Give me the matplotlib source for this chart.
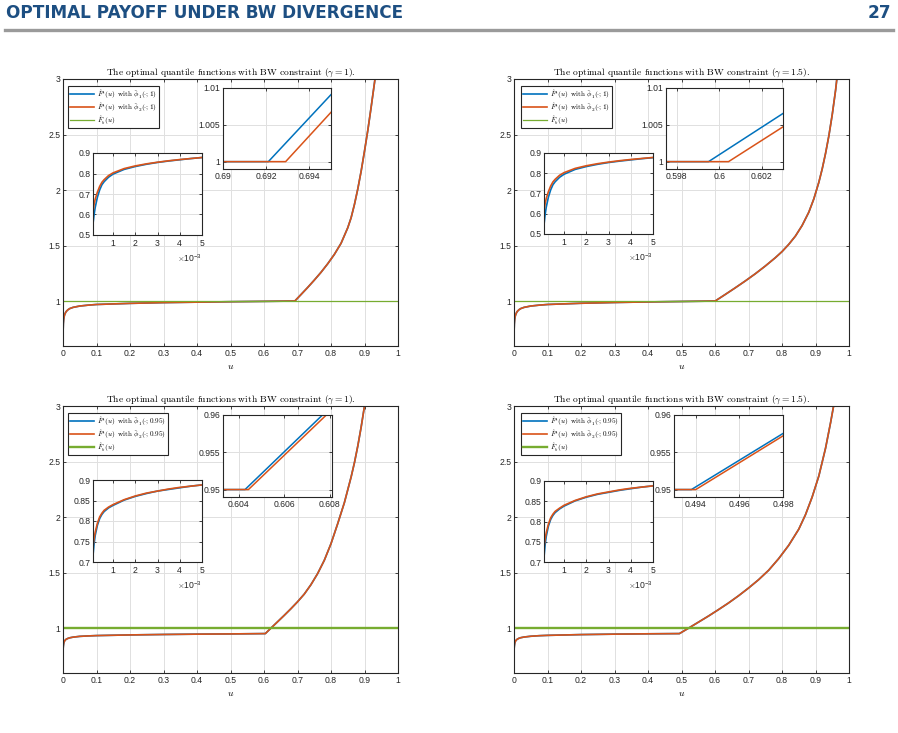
import numpy as np
import matplotlib
matplotlib.use('Agg')
import matplotlib.pyplot as plt
from matplotlib.lines import Line2D
from matplotlib.ticker import FuncFormatter

# ---- data ----
green_u = [0.0, 1.0]
green_vals = [1.0, 1.0]

low_u = [0, 0.0001, 0.0005, 0.001, 0.002, 0.003, 0.005, 0.0075, 0.01, 0.015, 0.02, 0.03, 0.05, 0.075,
         0.1, 0.2, 0.3, 0.4, 0.5]

# top-left (gamma = 1, phi(.;1))
tl_u = low_u + [0.6, 0.692, 0.71, 0.73, 0.75, 0.77, 0.79, 0.81, 0.83, 0.85, 0.86, 0.87, 0.88, 0.89,
                0.90, 0.91, 0.92, 0.93, 0.94]
tl_fstar = [0.50, 0.555, 0.745, 0.797, 0.834, 0.855, 0.878, 0.895, 0.907, 0.922, 0.932, 0.943, 0.955,
            0.963, 0.969, 0.979, 0.986, 0.99, 0.994,
            0.997, 1.0, 1.057, 1.121, 1.188, 1.258, 1.335, 1.42, 1.52, 1.66, 1.75, 1.87, 2.01, 2.17,
            2.35, 2.54, 2.75, 2.97, 3.2]
# top-right (gamma = 1.5, phi(.;1))
tr_u = low_u + [0.6005, 0.63, 0.66, 0.69, 0.72, 0.75, 0.78, 0.80, 0.82, 0.84, 0.86, 0.88, 0.895,
                0.91, 0.92, 0.93, 0.94, 0.95, 0.96, 0.97]
tr_fstar = [0.50, 0.545, 0.745, 0.795, 0.833, 0.855, 0.877, 0.895, 0.907, 0.922, 0.932, 0.943, 0.955,
            0.963, 0.969, 0.98, 0.987, 0.992, 0.996,
            1.0, 1.058, 1.118, 1.18, 1.245, 1.315, 1.39, 1.445, 1.51, 1.585, 1.68, 1.8, 1.92,
            2.07, 2.19, 2.33, 2.49, 2.68, 2.9, 3.17]
# bottom-left (gamma = 1, phi(.;0.95))
bl_u = low_u + [0.604, 0.62, 0.64, 0.66, 0.68, 0.70, 0.72, 0.74, 0.76, 0.78, 0.80, 0.82, 0.84, 0.86,
                0.87, 0.88, 0.89, 0.90, 0.91]
bl_fstar = [0.59, 0.716, 0.816, 0.838, 0.86, 0.872, 0.885, 0.894, 0.9, 0.907, 0.912, 0.918, 0.925,
            0.929, 0.932, 0.938, 0.942, 0.945, 0.947,
            0.95, 0.997, 1.055, 1.113, 1.173, 1.236, 1.305, 1.39, 1.49, 1.61, 1.76, 1.94, 2.13, 2.36,
            2.49, 2.64, 2.81, 3.0, 3.2]
# bottom-right (gamma = 1.5, phi(.;0.95))
br_u = low_u[:-1] + [0.4938, 0.52, 0.55, 0.58, 0.61, 0.64, 0.67, 0.70, 0.73, 0.76, 0.79, 0.82, 0.85,
                     0.87, 0.89, 0.91, 0.93, 0.945, 0.96, 0.97]
br_fstar = [0.59, 0.712, 0.816, 0.838, 0.86, 0.872, 0.885, 0.894, 0.9, 0.908, 0.913, 0.919, 0.926,
            0.931, 0.934, 0.941, 0.945, 0.948,
            0.95, 0.997, 1.052, 1.107, 1.165, 1.225, 1.29, 1.36, 1.435, 1.52, 1.625, 1.745, 1.89,
            2.02, 2.18, 2.37, 2.62, 2.85, 3.1, 3.3]

# small-u insets
ins_u = [0.0001, 0.00015, 0.0002, 0.0003, 0.0004, 0.0005, 0.0006, 0.0008, 0.001, 0.0015,
         0.002, 0.0025, 0.003, 0.0035, 0.004, 0.0045, 0.005]
tl_ins_blue = [0.555, 0.60, 0.635, 0.685, 0.72, 0.745, 0.76, 0.782, 0.797, 0.82,
               0.834, 0.845, 0.854, 0.861, 0.867, 0.873, 0.878]
tl_ins_orange = [0.61, 0.65, 0.675, 0.71, 0.737, 0.757, 0.77, 0.79, 0.803, 0.824,
                 0.837, 0.847, 0.855, 0.862, 0.868, 0.873, 0.878]
tr_ins_blue = [0.545, 0.595, 0.632, 0.683, 0.718, 0.743, 0.758, 0.78, 0.795, 0.819,
               0.833, 0.844, 0.853, 0.86, 0.866, 0.872, 0.877]
tr_ins_orange = [0.612, 0.65, 0.675, 0.71, 0.737, 0.757, 0.77, 0.79, 0.803, 0.824,
                 0.837, 0.847, 0.855, 0.862, 0.868, 0.873, 0.878]
bl_ins_blue = [0.716, 0.745, 0.765, 0.79, 0.806, 0.816, 0.823, 0.832, 0.838, 0.851,
               0.86, 0.867, 0.873, 0.877, 0.881, 0.885, 0.888]
bl_ins_orange = [0.737, 0.758, 0.773, 0.795, 0.81, 0.819, 0.826, 0.834, 0.84, 0.852,
                 0.861, 0.868, 0.873, 0.878, 0.882, 0.885, 0.888]
br_ins_blue = [0.712, 0.742, 0.763, 0.789, 0.805, 0.815, 0.822, 0.831, 0.838, 0.851,
               0.86, 0.867, 0.872, 0.877, 0.881, 0.885, 0.888]
br_ins_orange = [0.735, 0.757, 0.772, 0.794, 0.809, 0.818, 0.825, 0.833, 0.84, 0.852,
                 0.861, 0.868, 0.873, 0.878, 0.882, 0.885, 0.888]

# kink insets
tl_zoom_ub, tl_zoom_blue = [0.69, 0.6921, 0.695], [1.0, 1.0, 1.0091]
tl_zoom_uo, tl_zoom_orange = [0.69, 0.6929, 0.695], [1.0, 1.0, 1.0067]
tr_zoom_ub, tr_zoom_blue = [0.5975, 0.5995, 0.6031], [1.0, 1.0, 1.00673]
tr_zoom_uo, tr_zoom_orange = [0.5975, 0.60044, 0.6031], [1.0, 1.0, 1.00491]
bl_zoom_ub, bl_zoom_blue = [0.6033, 0.60427, 0.60768, 0.6081], [0.95, 0.95, 0.96, 0.9612]
bl_zoom_uo, bl_zoom_orange = [0.6033, 0.60442, 0.60785, 0.6081], [0.95, 0.95, 0.96, 0.9607]
br_zoom_ub, br_zoom_blue = [0.493, 0.4938, 0.498], [0.95, 0.95, 0.95752]
br_zoom_uo, br_zoom_orange = [0.493, 0.494, 0.498], [0.95, 0.95, 0.9572]

titles = [r'The optimal quantile functions with BW constraint ($\gamma = 1$).',
          r'The optimal quantile functions with BW constraint ($\gamma = 1.5$).',
          r'The optimal quantile functions with BW constraint ($\gamma = 1$).',
          r'The optimal quantile functions with BW constraint ($\gamma = 1.5$).']

# ---- style ----
W, H = 898, 733
BLUE, ORANGE, GREEN = '#0072BD', '#D95319', '#77AC30'
DARK = '#262626'
FS = 6.2
plt.rcParams['mathtext.fontset'] = 'cm'
plt.rcParams['font.family'] = ['Liberation Sans', 'DejaVu Sans']

fmt = FuncFormatter(lambda v, p: '%g' % round(v, 6))


def px(x0, y0, x1, y1):
    return [x0 / W, 1 - y1 / H, (x1 - x0) / W, (y1 - y0) / H]


def style(ax):
    ax.tick_params(direction='in', length=2.5, width=0.6, labelsize=FS, colors=DARK,
                   top=True, right=True, pad=2)
    for s in ax.spines.values():
        s.set_color(DARK)
        s.set_linewidth(0.8)
    ax.grid(True, color='#e0e0e0', lw=0.7)
    ax.set_axisbelow(True)


fig = plt.figure(figsize=(W / 100, H / 100), dpi=100)

# page header
fig.text(6 / W, 1 - 13 / H, 'OPTIMAL PAYOFF UNDER BW DIVERGENCE', fontsize=12.2, fontweight='bold',
         color='#1d4f82', va='center', family='DejaVu Sans')
fig.text(891 / W, 1 - 13 / H, '27', fontsize=12.2, fontweight='bold', color='#1d4f82',
         va='center', ha='right', family='DejaVu Sans')
fig.add_artist(Line2D([5 / W, 893 / W], [1 - 30 / H] * 2, lw=2.4, color='#9a9a9a'))

panels = [
    dict(main=(63, 79, 398, 346), u=tl_u, f=tl_fstar, lab='1', glw=0.9,
         ins=(93, 153, 202, 235), ins_blue=tl_ins_blue, ins_orange=tl_ins_orange, ins_ylim=(0.5, 0.9),
         ins_yt=[0.5, 0.6, 0.7, 0.8, 0.9],
         zoom=(223, 88, 331, 169), zb=(tl_zoom_ub, tl_zoom_blue), zo=(tl_zoom_uo, tl_zoom_orange),
         zx=(0.69, 0.695), zy=(0.999, 1.01), zxt=[0.69, 0.692, 0.694], zyt=[1, 1.005, 1.01],
         leg=(68, 86)),
    dict(main=(514, 79, 849, 346), u=tr_u, f=tr_fstar, lab='1', glw=0.9,
         ins=(544, 153, 653, 234), ins_blue=tr_ins_blue, ins_orange=tr_ins_orange, ins_ylim=(0.5, 0.9),
         ins_yt=[0.5, 0.6, 0.7, 0.8, 0.9],
         zoom=(666, 88, 783, 169), zb=(tr_zoom_ub, tr_zoom_blue), zo=(tr_zoom_uo, tr_zoom_orange),
         zx=(0.5975, 0.603), zy=(0.999, 1.01), zxt=[0.598, 0.6, 0.602], zyt=[1, 1.005, 1.01],
         leg=(521, 86)),
    dict(main=(63, 406, 398, 673), u=bl_u, f=bl_fstar, lab='0.95', glw=1.7,
         ins=(93, 480, 202, 562), ins_blue=bl_ins_blue, ins_orange=bl_ins_orange, ins_ylim=(0.7, 0.9),
         ins_yt=[0.7, 0.75, 0.8, 0.85, 0.9],
         zoom=(223, 415, 332, 497), zb=(bl_zoom_ub, bl_zoom_blue), zo=(bl_zoom_uo, bl_zoom_orange),
         zx=(0.6033, 0.6081), zy=(0.949, 0.96), zxt=[0.604, 0.606, 0.608], zyt=[0.95, 0.955, 0.96],
         leg=(68, 413)),
    dict(main=(514, 406, 849, 673), u=br_u, f=br_fstar, lab='0.95', glw=1.7,
         ins=(544, 481, 653, 562), ins_blue=br_ins_blue, ins_orange=br_ins_orange, ins_ylim=(0.7, 0.9),
         ins_yt=[0.7, 0.75, 0.8, 0.85, 0.9],
         zoom=(674, 415, 783, 497), zb=(br_zoom_ub, br_zoom_blue), zo=(br_zoom_uo, br_zoom_orange),
         zx=(0.493, 0.498), zy=(0.949, 0.96), zxt=[0.494, 0.496, 0.498], zyt=[0.95, 0.955, 0.96],
         leg=(521, 413)),
]

for p, title in zip(panels, titles):
    ax = fig.add_axes(px(*p['main']))
    style(ax)
    ax.plot(p['u'], p['f'], color=BLUE, lw=1.2,
            label=r'$\hat{F}^{*}(u)$ with $\tilde{\phi}_1(\cdot;%s)$' % p['lab'])
    ax.plot(p['u'], p['f'], color=ORANGE, lw=1.2,
            label=r'$\hat{F}^{*}(u)$ with $\tilde{\phi}_2(\cdot;%s)$' % p['lab'])
    ax.plot(green_u, green_vals, color=GREEN, lw=p['glw'], label=r'$\hat{F}_b(u)$')
    ax.set_xlim(0, 1)
    ax.set_ylim(0.595, 3)
    ax.set_xticks(np.round(np.arange(0, 1.01, 0.1), 1))
    ax.set_yticks([1, 1.5, 2, 2.5, 3])
    ax.xaxis.set_major_formatter(fmt)
    ax.yaxis.set_major_formatter(fmt)
    ax.set_xlabel('$u$', fontsize=7, labelpad=2)
    ax.set_title(title, fontsize=6.85, family='cmr10', pad=3)
    lx, ly = p['leg']
    leg = ax.legend(loc='upper left', bbox_to_anchor=(lx / W, 1 - ly / H), bbox_transform=fig.transFigure,
                    prop={'family': 'cmr10', 'size': 5.2}, frameon=True, fancybox=False, framealpha=1,
                    edgecolor=DARK, borderpad=0.25, labelspacing=0.0, handlelength=3.3,
                    handletextpad=0.5, borderaxespad=0)
    leg.get_frame().set_linewidth(0.8)

    # small-u inset
    a = fig.add_axes(px(*p['ins']))
    style(a)
    a.plot(ins_u, p['ins_blue'], color=BLUE, lw=1.2)
    a.plot(ins_u, p['ins_orange'], color=ORANGE, lw=1.2)
    a.set_xlim(0.0001, 0.005)
    a.set_ylim(*p['ins_ylim'])
    a.set_xticks([0.001, 0.002, 0.003, 0.004, 0.005])
    a.set_yticks(p['ins_yt'])
    a.yaxis.set_major_formatter(fmt)
    a.ticklabel_format(axis='x', style='sci', scilimits=(0, 0), useMathText=True)
    a.xaxis.get_offset_text().set_fontsize(FS)
    a.xaxis.get_offset_text().set_color(DARK)

    # kink inset
    z = fig.add_axes(px(*p['zoom']))
    style(z)
    z.plot(*p['zb'], color=BLUE, lw=1.1)
    z.plot(*p['zo'], color=ORANGE, lw=1.1)
    z.set_xlim(*p['zx'])
    z.set_ylim(*p['zy'])
    z.set_xticks(p['zxt'])
    z.set_yticks(p['zyt'])
    z.xaxis.set_major_formatter(fmt)
    z.yaxis.set_major_formatter(fmt)

fig.savefig('out.png', dpi=100)
